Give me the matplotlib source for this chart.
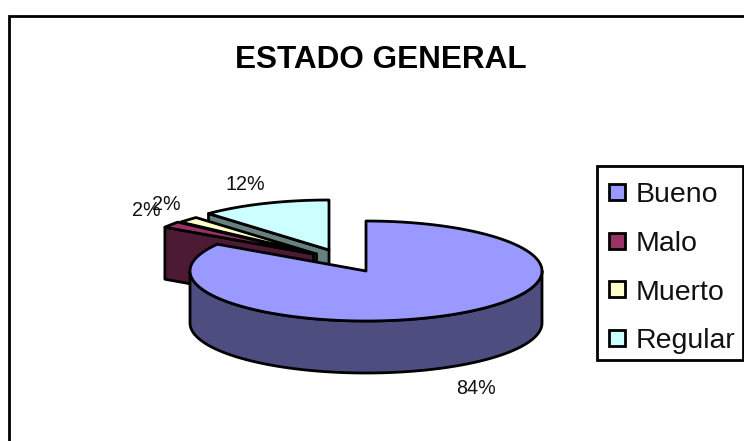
import numpy as np
import matplotlib
matplotlib.use('Agg')
import matplotlib.pyplot as plt
from matplotlib.patches import Polygon, Rectangle

plt.rcParams['font.family'] = ['Liberation Sans', 'DejaVu Sans']

categories = ['Bueno', 'Malo', 'Muerto', 'Regular']
values = [84, 2, 2, 12]
labels = ['84%', '2%', '2%', '12%']
top_colors = ['#9999FF', '#993366', '#FFFFCC', '#CCFFFF']
wall_colors = ['#4D4D80', '#4D1A33', '#808066', '#668080']

# pie geometry in image pixels
RX = 176
RY = 50
DEPTH = 52
LW = 2.0
centers = [(366, 271), (313.5, 254), (316.5, 254), (329, 250)]
label_pos = [(476, 388), (146, 210), (166, 204), (245, 184)]

fig = plt.figure(figsize=(7.44, 4.41), dpi=100)
ax = fig.add_axes([0, 0, 1, 1])
ax.set_xlim(0, 744)
ax.set_ylim(441, 0)
ax.axis('off')

# border of the chart area, only left and top show
ax.plot([9, 9, 744], [441, 15.5, 15.5], color='black', lw=LW, solid_joinstyle='miter')


def rim(center, a1, a2):
    t = np.radians(np.linspace(a1, a2, 200))
    return center[0] + RX * np.cos(t), center[1] - RY * np.sin(t)


# slice angles, clockwise from twelve o'clock
angles = [90]
for v in values:
    angles.append(angles[-1] - v * 3.6)

# back slices first, the big one goes on top
for i in [3, 2, 1, 0]:
    c = centers[i]
    a1, a2 = angles[i], angles[i + 1]
    x, y = rim(c, a1, a2)
    if i > 0:
        # cut face looking at the viewer
        ex, ey = x[0], y[0]
        face = [(ex, ey), c, (c[0], c[1] + DEPTH), (ex, ey + DEPTH)]
        ax.add_patch(Polygon(face, fc=wall_colors[i], ec='black', lw=LW, joinstyle='round'))
    else:
        # outer wall, lower half of the rim
        wx, wy = rim(c, 180, 360)
        wall = list(zip(wx, wy)) + list(zip(wx[::-1], wy[::-1] + DEPTH))
        ax.add_patch(Polygon(wall, fc=wall_colors[i], ec='black', lw=LW, joinstyle='round'))
    top = [c] + list(zip(x, y))
    ax.add_patch(Polygon(top, fc=top_colors[i], ec='black', lw=LW, joinstyle='round'))

for lab, p in zip(labels, label_pos):
    ax.text(p[0], p[1], lab, fontsize=14.2, ha='center', va='center', color='#111111')

ax.text(381, 60, 'ESTADO GENERAL', fontsize=22.7, fontweight='bold', ha='center', va='center')

# legend
ax.add_patch(Rectangle((597, 166), 146, 194, fc='white', ec='black', lw=LW))
for i, name in enumerate(categories):
    y = 192 + i * 48.5
    ax.add_patch(Rectangle((609, y - 8), 16, 16, fc=top_colors[i], ec='black', lw=LW))
    ax.text(636, y + 3.5, name, fontsize=20.5, ha='left', va='center', color='#111111')

fig.savefig('out.png', dpi=100)
